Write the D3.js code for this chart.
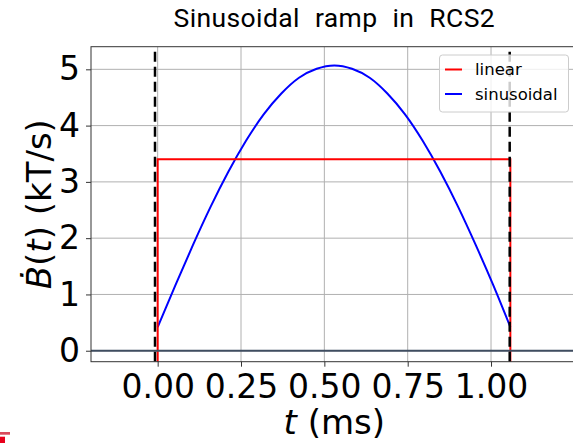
<!DOCTYPE html>
<html>
<head>
<meta charset="utf-8">
<script src="https://cdn.jsdelivr.net/npm/d3@7"></script>
<style>
  html, body { margin: 0; padding: 0; background: #fff; }
  svg { display: block; }
</style>
</head>
<body>
<svg id="chart" width="573" height="443"></svg>
<script>
// Ramp waveforms (t in ms, dB/dt in kT/s)
const linearT = [0, 0, 1.058, 1.058];
const linearB = [-0.3, 3.4, 3.4, -0.3];

const sinT = [0, 0.053, 0.106, 0.159, 0.212, 0.265, 0.318, 0.371, 0.424, 0.477, 0.53,
              0.583, 0.636, 0.689, 0.742, 0.795, 0.848, 0.901, 0.954, 1.007, 1.058];
const sinB = [0.42, 1.16, 1.88, 2.56, 3.18, 3.73, 4.20, 4.57, 4.85, 5.01, 5.07,
              5.01, 4.85, 4.57, 4.20, 3.73, 3.18, 2.56, 1.88, 1.16, 0.42];

// Ramp start / end markers
const markerT = [-0.008, 1.056];

const xTicks = [0, 0.25, 0.5, 0.75, 1.0];
const yTicks = [0, 1, 2, 3, 4, 5];

const svg = d3.select("#chart");
const pLeft = 91, pRight = 577.7, pTop = 46.7, pBottom = 361.7;

const x = d3.scaleLinear().domain([-0.2, 1.26]).range([pLeft, pRight]);
const y = d3.scaleLinear().domain([-0.195, 5.402]).range([pBottom, pTop]);

svg.append("defs").append("clipPath").attr("id", "plotclip")
  .append("rect").attr("x", pLeft).attr("y", pTop)
  .attr("width", pRight - pLeft).attr("height", pBottom - pTop);

const plot = svg.append("g").attr("clip-path", "url(#plotclip)");

// grid
plot.selectAll("line.gx").data(xTicks).join("line")
  .attr("x1", d => x(d)).attr("x2", d => x(d))
  .attr("y1", pTop).attr("y2", pBottom)
  .attr("stroke", "#b0b0b0").attr("stroke-width", 1);
plot.selectAll("line.gy").data(yTicks).join("line")
  .attr("x1", pLeft).attr("x2", pRight)
  .attr("y1", d => y(d)).attr("y2", d => y(d))
  .attr("stroke", "#b0b0b0").attr("stroke-width", 1);

// sinusoidal ramp
const sinLine = d3.line().x(d => x(d[0])).y(d => y(d[1])).curve(d3.curveNatural);
plot.append("path").datum(d3.zip(sinT, sinB))
  .attr("d", sinLine).attr("fill", "none")
  .attr("stroke", "#0000ff").attr("stroke-width", 2);

// linear ramp
const linLine = d3.line().x(d => x(d[0])).y(d => y(d[1]));
plot.append("path").datum(d3.zip(linearT, linearB))
  .attr("d", linLine).attr("fill", "none")
  .attr("stroke", "#ff0000").attr("stroke-width", 2);

// zero line
plot.append("line")
  .attr("x1", pLeft).attr("x2", pRight)
  .attr("y1", y(0)).attr("y2", y(0))
  .attr("stroke", "#3f4d60").attr("stroke-width", 2);

// dashed markers
plot.selectAll("line.mk").data(markerT).join("line")
  .attr("x1", d => x(d)).attr("x2", d => x(d))
  .attr("y1", pBottom).attr("y2", pTop)
  .attr("stroke", "#000").attr("stroke-width", 2.5)
  .attr("stroke-dasharray", "10,5");

// frame
svg.append("rect").attr("x", pLeft).attr("y", pTop)
  .attr("width", pRight - pLeft).attr("height", pBottom - pTop)
  .attr("fill", "none").attr("stroke", "#333").attr("stroke-width", 1);

// axes
const font = "'DejaVu Sans', sans-serif";
const tickFont = 33, labelFont = 34;
const xAxis = svg.append("g").attr("transform", `translate(0,${pBottom})`)
  .call(d3.axisBottom(x).tickValues(xTicks).tickFormat(d3.format(".2f")).tickSizeOuter(0).tickSize(5).tickPadding(8));
xAxis.select(".domain").remove();
xAxis.selectAll(".tick line").attr("stroke", "#333");
xAxis.selectAll(".tick text").attr("font-family", font).attr("font-size", tickFont).attr("fill", "#000");

const yAxis = svg.append("g").attr("transform", `translate(${pLeft},0)`)
  .call(d3.axisLeft(y).tickValues(yTicks).tickFormat(d3.format("d")).tickSizeOuter(0).tickSize(5).tickPadding(6));
yAxis.select(".domain").remove();
yAxis.selectAll(".tick line").attr("stroke", "#333");
yAxis.selectAll(".tick text").attr("font-family", font).attr("font-size", tickFont).attr("fill", "#000");

// title
svg.append("text").attr("x", (pLeft + pRight) / 2).attr("y", 27.3)
  .attr("text-anchor", "middle").attr("font-family", "Roboto, sans-serif")
  .attr("font-size", 26.5).attr("letter-spacing", 0.4).attr("word-spacing", 8).attr("fill", "#000")
  .text("Sinusoidal ramp in RCS2");

// x label
const xl = svg.append("text").attr("x", (pLeft + pRight) / 2).attr("y", 434)
  .attr("text-anchor", "middle").attr("font-family", font).attr("font-size", labelFont).attr("fill", "#000");
xl.append("tspan").attr("font-style", "italic").text("t");
xl.append("tspan").text(" (ms)");

// y label
const yl = svg.append("text")
  .attr("transform", `translate(51,${(pTop + pBottom) / 2}) rotate(-90)`)
  .attr("text-anchor", "middle").attr("font-family", font).attr("font-size", labelFont).attr("fill", "#000");
yl.append("tspan").attr("font-style", "italic").text("Ḃ");
yl.append("tspan").text("(");
yl.append("tspan").attr("font-style", "italic").text("t");
yl.append("tspan").text(") (kT/s)");

// legend
const lg = svg.append("g");
lg.append("rect").attr("x", 439.5).attr("y", 55).attr("width", 129).attr("height", 57)
  .attr("rx", 3).attr("fill", "#fff").attr("fill-opacity", 0.8)
  .attr("stroke", "#cccccc").attr("stroke-width", 1);
const legendItems = [["linear", "#ff0000"], ["sinusoidal", "#0000ff"]];
legendItems.forEach(([name, color], i) => {
  const cy = 69.5 + i * 24.5;
  lg.append("line").attr("x1", 445).attr("x2", 462).attr("y1", cy).attr("y2", cy)
    .attr("stroke", color).attr("stroke-width", 2);
  lg.append("text").attr("x", 475).attr("y", cy).attr("dy", "0.35em")
    .attr("font-family", font).attr("font-size", 16.5).attr("fill", "#000").text(name);
});

// corner mark
svg.append("rect").attr("x", 0).attr("y", 432).attr("width", 10).attr("height", 2.7).attr("fill", "#d94a5c");
svg.append("rect").attr("x", 0).attr("y", 436.7).attr("width", 5).attr("height", 6.3).attr("fill", "#e8001c");
</script>
</body>
</html>
